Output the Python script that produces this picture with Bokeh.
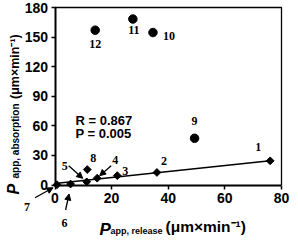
import math
from bokeh.plotting import figure
from bokeh.models import (Range1d, FixedTicker, Label, LabelSet, Arrow, NormalHead,
                          ColumnDataSource, LinearAxis)
from bokeh.embed import file_html
from bokeh.resources import INLINE

# ---- data ----
point_ids = ["1", "2", "3", "4", "5", "6", "7", "8", "9", "10", "11", "12"]
p_release = [76.0, 36.0, 22.0, 14.9, 11.2, 5.5, 0.7, 11.4, 49.3, 34.6, 27.5, 14.2]
p_absorption = [24.5, 12.7, 9.5, 6.9, 3.2, 1.0, 0.3, 15.7, 47.4, 154.6, 168.3, 157.0]
diamond_ids = ["1", "2", "3", "4", "5", "6", "7", "8"]
circle_ids = ["9", "10", "11", "12"]
fit_x = [0.0, 76.0]
fit_y = [1.4, 24.5]
x_ticks = [0, 20, 40, 60, 80]
y_ticks = [0, 30, 60, 90, 120, 150, 180]
stats_text = ["R = 0.867", "P = 0.005"]
unit_text = "(μm×min⁻¹)"

FONT = "Liberation Sans"
W, H = 290, 238
X_MAX, Y_MAX = 80.0, 180.0
# pixel placement of the data box inside the canvas (from top-left)
BX0, BX1 = 54.5, 281.0
BY0, BY1 = 7.0, 184.5
kx = (BX1 - BX0) / X_MAX
ky = (BY1 - BY0) / Y_MAX
x_range = Range1d(-BX0 / kx, X_MAX + (W - BX1) / kx)
y_range = Range1d(-(H - BY1) / ky, Y_MAX + BY0 / ky)

p = figure(width=W, height=H, output_backend="svg", toolbar_location=None,
           x_range=x_range, y_range=y_range, x_axis_type=None, y_axis_type=None,
           min_border=0, min_border_left=0, min_border_right=0,
           min_border_top=0, min_border_bottom=0)
p.xgrid.visible = False
p.ygrid.visible = False
p.outline_line_color = None
p.background_fill_color = "white"
p.border_fill_color = "white"

xaxis = LinearAxis(fixed_location=0, bounds=(0, X_MAX), ticker=FixedTicker(ticks=x_ticks))
yaxis = LinearAxis(fixed_location=0, bounds=(0, Y_MAX), ticker=FixedTicker(ticks=y_ticks))
for ax in (xaxis, yaxis):
    ax.axis_line_width = 2
    ax.axis_line_color = "black"
    ax.major_tick_in = 0
    ax.major_tick_out = 4
    ax.major_tick_line_width = 1.5
    ax.minor_tick_out = 0
    ax.minor_tick_in = 0
    ax.major_label_text_font = FONT
    ax.major_label_text_font_style = "bold"
    ax.major_label_text_font_size = "14px"
    ax.major_label_text_color = "black"
xaxis.major_label_standoff = 4
yaxis.major_label_standoff = 3
p.add_layout(xaxis, "below")
p.add_layout(yaxis, "left")

# top / right frame lines
p.line([0, X_MAX, X_MAX], [Y_MAX, Y_MAX, 0], line_color="black", line_width=1.3)

# regression line
p.line(fit_x, fit_y, line_color="black", line_width=1.5)

# points
dx = [p_release[point_ids.index(i)] for i in diamond_ids]
dy = [p_absorption[point_ids.index(i)] for i in diamond_ids]
cx = [p_release[point_ids.index(i)] for i in circle_ids]
cy = [p_absorption[point_ids.index(i)] for i in circle_ids]
p.scatter(dx, dy, marker="square", angle=math.pi / 4, size=5.5,
          fill_color="black", line_color="black")
p.scatter(cx, cy, marker="circle", size=8.5, fill_color="black", line_color="black")

# point labels (pixel offsets, up positive)
off = {"1": (-12, 14), "2": (7, 11), "3": (8, 5), "4": (18, 18), "5": (-22, 16),
       "6": (-6, -39), "7": (-30, -22), "8": (6, 12), "9": (0, 17),
       "10": (16, -3), "11": (1, -11), "12": (0, -14)}
src = ColumnDataSource(dict(x=p_release, y=p_absorption, t=point_ids,
                            xo=[off[i][0] for i in point_ids],
                            yo=[off[i][1] for i in point_ids]))
p.add_layout(LabelSet(x="x", y="y", text="t", source=src, x_offset="xo", y_offset="yo",
                      text_align="center", text_baseline="middle", text_font=FONT,
                      text_font_style="bold", text_font_size="12px", text_color="black"))

# arrows: (start px offset, end px offset), screen-up positive
arr = {"5": ((-18, 16), (-4, 3.5)), "4": ((14, 12.5), (2.5, 2.5)),
       "7": ((-22, -13), (-4, -3)), "6": ((-5, -26), (-1.5, -10))}
for k, (s, e) in arr.items():
    x0 = p_release[point_ids.index(k)]
    y0 = p_absorption[point_ids.index(k)]
    p.add_layout(Arrow(end=NormalHead(size=6, fill_color="black", line_color="black"),
                       x_start=x0 + s[0] / kx, y_start=y0 + s[1] / ky,
                       x_end=x0 + e[0] / kx, y_end=y0 + e[1] / ky,
                       line_color="black", line_width=1.3))

# screen-unit text pieces (origin bottom-left of canvas)
def piece(x, y, t, size, style="bold", angle=0.0, baseline="alphabetic"):
    p.add_layout(Label(x=x, y=y, x_units="screen", y_units="screen", text=t,
                       angle=angle, text_align="left", text_baseline=baseline,
                       text_font=FONT, text_font_style=style, text_font_size=size,
                       text_color="black"))

# stats
piece(75, 118, stats_text[0], "13px", baseline="middle")
piece(75, 105, stats_text[1], "13px", baseline="middle")

# x title
piece(99, 9, "P", "17px", "bold italic")
piece(110, 8, "app, release", "9px")
piece(165, 12.5, unit_text, "15.5px")

# y title (rotated)
A = math.pi / 2
piece(12.5, 44, "P", "16px", "bold italic", A)
piece(15, 60, "app, absorption", "10px", "bold", A)
piece(14.5, 139.5, unit_text, "12.5px", "bold", A)

open("out.html", "w").write(file_html(p, INLINE))
